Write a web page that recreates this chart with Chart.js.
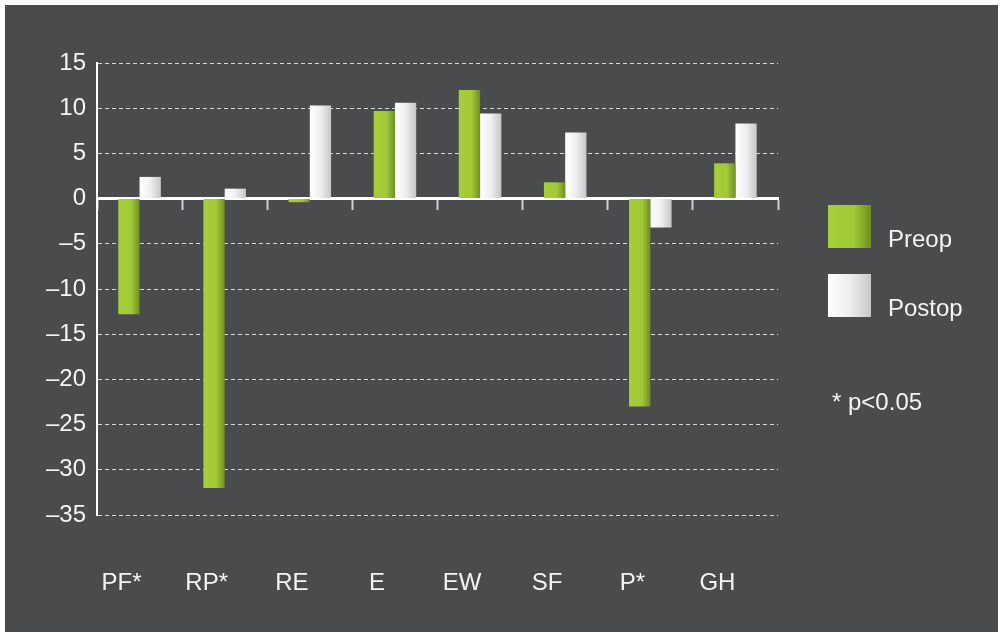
<!DOCTYPE html>
<html>
<head>
<meta charset="utf-8">
<script src="https://cdn.jsdelivr.net/npm/chart.js@4"></script>
<style>
  html, body { margin: 0; padding: 0; background: #fff; }
  #frame { position: absolute; left: 5px; top: 5px; width: 993px; height: 627px; background: #4a4b4d; }
  #wrap { position: absolute; left: 0; top: 0; width: 1003px; height: 637px; }
  .lg { position: absolute; font-family: "Liberation Sans", Arial, sans-serif; font-size: 24px; color: #f4f4f4; }
  .box { position: absolute; width: 43px; height: 43px; }
</style>
</head>
<body>
<div id="frame"></div>
<div id="wrap"><canvas id="chart" width="1003" height="637"></canvas></div>
<div class="box" style="left:828px;top:205px;background:linear-gradient(to right,#a6ce39 0%,#a2ca37 60%,#6f8f22 100%)"></div>
<div class="lg" style="left:888px;top:225px">Preop</div>
<div class="box" style="left:828px;top:274px;background:linear-gradient(to right,#ffffff 0%,#eeeff0 50%,#c6c7c9 100%)"></div>
<div class="lg" style="left:888px;top:294px">Postop</div>
<div class="lg" style="left:832px;top:388px">* p&lt;0.05</div>
<script>
const categories = ['PF*', 'RP*', 'RE', 'E', 'EW', 'SF', 'P*', 'GH'];
const preop = [-12.8, -32.0, -0.4, 9.7, 12.0, 1.8, -23.0, 3.9];
const postop = [2.4, 1.1, 10.3, 10.6, 9.4, 7.3, -3.2, 8.3];
const yTicks = { min: -35, max: 15, step: 5 };

const font = { family: '"Liberation Sans", Arial, sans-serif', size: 24 };

// horizontal gradient across each bar, worked out from the category scale
function barFill(stops, fallback) {
  return (c) => {
    const x = c.chart.scales.x;
    if (!x || !c.chart.chartArea) return fallback;
    const cx = x.getPixelForValue(c.dataIndex);
    const w = (x.getPixelForValue(1) - x.getPixelForValue(0)) * 0.25;
    const left = c.datasetIndex === 0 ? cx - w : cx;
    const g = c.chart.ctx.createLinearGradient(left, 0, left + w, 0);
    stops.forEach(s => g.addColorStop(s[0], s[1]));
    return g;
  };
}

new Chart(document.getElementById('chart'), {
  type: 'bar',
  data: {
    labels: categories,
    datasets: [{
      label: 'Preop',
      data: preop,
      backgroundColor: barFill([[0, '#a6ce39'], [0.6, '#a2ca37'], [1, '#6f8f22']], '#a6ce39'),
      borderWidth: 0
    }, {
      label: 'Postop',
      data: postop,
      backgroundColor: barFill([[0, '#ffffff'], [0.5, '#eeeff0'], [1, '#c6c7c9']], '#f0f0f0'),
      borderWidth: 0
    }]
  },
  options: {
    responsive: false,
    animation: false,
    layout: { padding: { left: 0, top: 63, right: 225, bottom: 0 } },
    datasets: { bar: { barPercentage: 1, categoryPercentage: 0.5 } },
    plugins: { legend: { display: false }, tooltip: { enabled: false } },
    scales: {
      x: {
        position: { y: 0 },
        ticks: { display: false },
        grid: { offset: true, drawOnChartArea: false, drawTicks: true, tickLength: 10, tickWidth: 2, tickColor: '#cfcfcf' },
        border: { color: '#ffffff', width: 3 }
      },
      xl: {
        type: 'category',
        position: 'bottom',
        grid: { display: false },
        border: { display: false },
        ticks: { color: '#f4f4f4', font, padding: 46, labelOffset: -18, maxRotation: 0 },
        afterFit: s => { s.height = 122; }
      },
      y: {
        min: yTicks.min,
        max: yTicks.max,
        afterFit: s => { s.width = 97; },
        ticks: {
          stepSize: yTicks.step,
          color: '#f4f4f4',
          font,
          padding: 11,
          callback: v => v < 0 ? '\u2013' + Math.abs(v) : String(v)
        },
        grid: { color: '#d8d8d8', lineWidth: 1, drawTicks: false },
        border: { color: '#ffffff', width: 2, dash: [4, 3] }
      }
    }
  }
});
</script>
</body>
</html>
